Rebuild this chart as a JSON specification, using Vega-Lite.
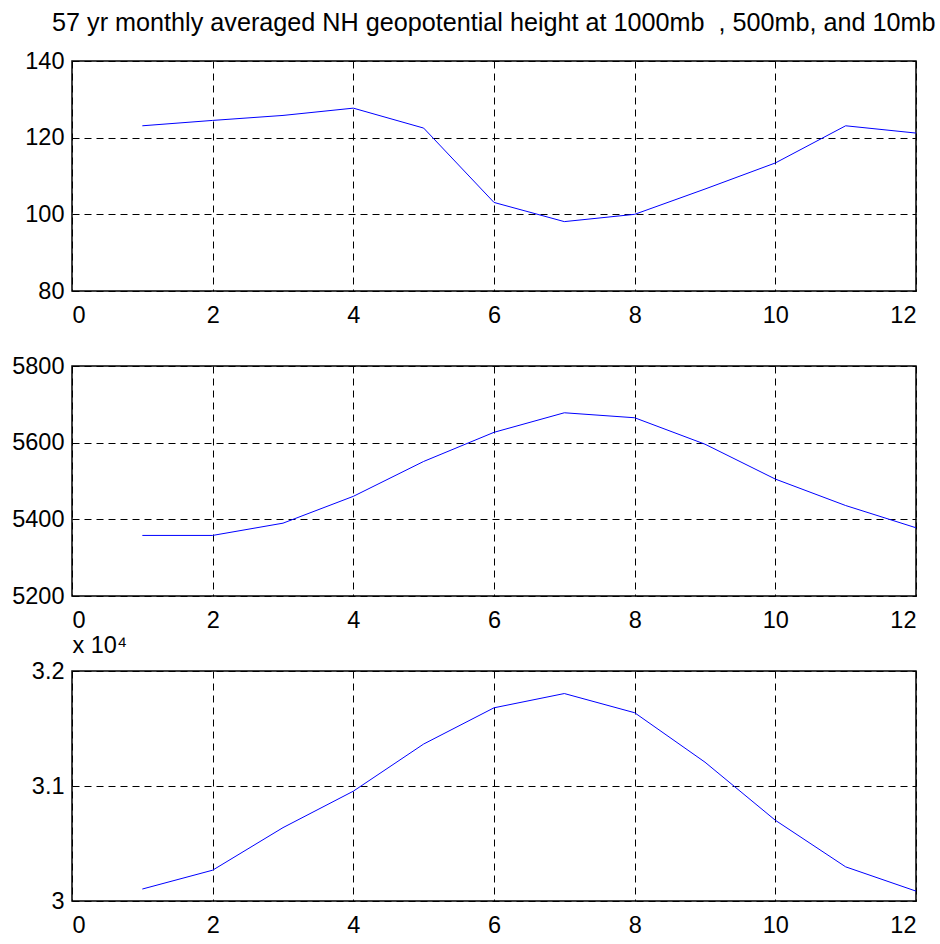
{
  "$schema": "https://vega.github.io/schema/vega-lite/v6.json",
  "padding": {"left": 10, "top": 11, "right": 5, "bottom": 5},
  "background": "white",
  "title": {
    "text": "57 yr monthly averaged NH geopotential height at 1000mb\u00a0\u00a0, 500mb, and 10mb",
    "fontSize": 25.2,
    "font": "Liberation Sans, Arial, sans-serif",
    "fontWeight": "normal",
    "color": "black",
    "anchor": "middle",
    "dx": 29,
    "offset": 12
  },
  "data": {
    "values": [
      {"month": 1, "z1000": 123.1, "z500": 5358, "z10": 30104},
      {"month": 2, "z1000": 124.5, "z500": 5358, "z10": 30268},
      {"month": 3, "z1000": 125.8, "z500": 5390, "z10": 30638},
      {"month": 4, "z1000": 127.7, "z500": 5460, "z10": 30955},
      {"month": 5, "z1000": 122.5, "z500": 5551, "z10": 31365},
      {"month": 6, "z1000": 103.1, "z500": 5627, "z10": 31680},
      {"month": 7, "z1000": 98.1, "z500": 5678, "z10": 31804},
      {"month": 8, "z1000": 100.0, "z500": 5665, "z10": 31637},
      {"month": 9, "z1000": 106.6, "z500": 5596, "z10": 31207},
      {"month": 10, "z1000": 113.4, "z500": 5505, "z10": 30702},
      {"month": 11, "z1000": 123.1, "z500": 5436, "z10": 30297},
      {"month": 12, "z1000": 121.2, "z500": 5378, "z10": 30086}
    ]
  },
  "bounds": "flush",
  "spacing": 75,
  "vconcat": [
    {
      "width": 844,
      "height": 230,
      "mark": {"type": "line", "color": "#0000ff", "strokeWidth": 1},
      "encoding": {
        "x": {"field": "month", "type": "quantitative", "scale": {"domain": [0, 12], "nice": false, "zero": false}, "axis": {"values": [0, 2, 4, 6, 8, 10, 12], "title": null}},
        "y": {"field": "z1000", "type": "quantitative", "scale": {"domain": [80, 140], "nice": false, "zero": false}, "axis": {"values": [80, 100, 120, 140], "title": null}}
      }
    },
    {
      "width": 844,
      "height": 230,
      "mark": {"type": "line", "color": "#0000ff", "strokeWidth": 1},
      "encoding": {
        "x": {"field": "month", "type": "quantitative", "scale": {"domain": [0, 12], "nice": false, "zero": false}, "axis": {"values": [0, 2, 4, 6, 8, 10, 12], "title": null}},
        "y": {"field": "z500", "type": "quantitative", "scale": {"domain": [5200, 5800], "nice": false, "zero": false}, "axis": {"values": [5200, 5400, 5600, 5800], "title": null, "format": "d"}}
      }
    },
    {
      "width": 844,
      "height": 230,
      "mark": {"type": "line", "color": "#0000ff", "strokeWidth": 1},
      "encoding": {
        "x": {"field": "month", "type": "quantitative", "scale": {"domain": [0, 12], "nice": false, "zero": false}, "axis": {"values": [0, 2, 4, 6, 8, 10, 12], "title": null}},
        "y": {"field": "z10", "type": "quantitative", "scale": {"domain": [30000, 32000], "nice": false, "zero": false}, "axis": {
          "values": [30000, 31000, 32000],
          "labelExpr": "format(datum.value / 10000, '.1~f')",
          "title": "x 10⁴",
          "titleAngle": 0,
          "titleAlign": "left",
          "titleBaseline": "alphabetic",
          "titleX": 0,
          "titleY": -19,
          "titleFontSize": 23.5,
          "titleFontWeight": "normal",
          "titleFont": "Liberation Sans, Arial, sans-serif",
          "titleColor": "black"
        }}
      }
    }
  ],
  "config": {
    "view": {"stroke": "black", "strokeWidth": 1.5},
    "axis": {
      "labelFont": "Liberation Sans, Arial, sans-serif",
      "labelFontSize": 23.5,
      "labelColor": "black",
      "domain": false,
      "ticks": false,
      "grid": true,
      "gridColor": "black",
      "gridDash": [7, 5],
      "gridWidth": 1,
      "gridOpacity": 1
    },
    "axisX": {"labelPadding": 12},
    "axisY": {"labelPadding": 8}
  }
}
